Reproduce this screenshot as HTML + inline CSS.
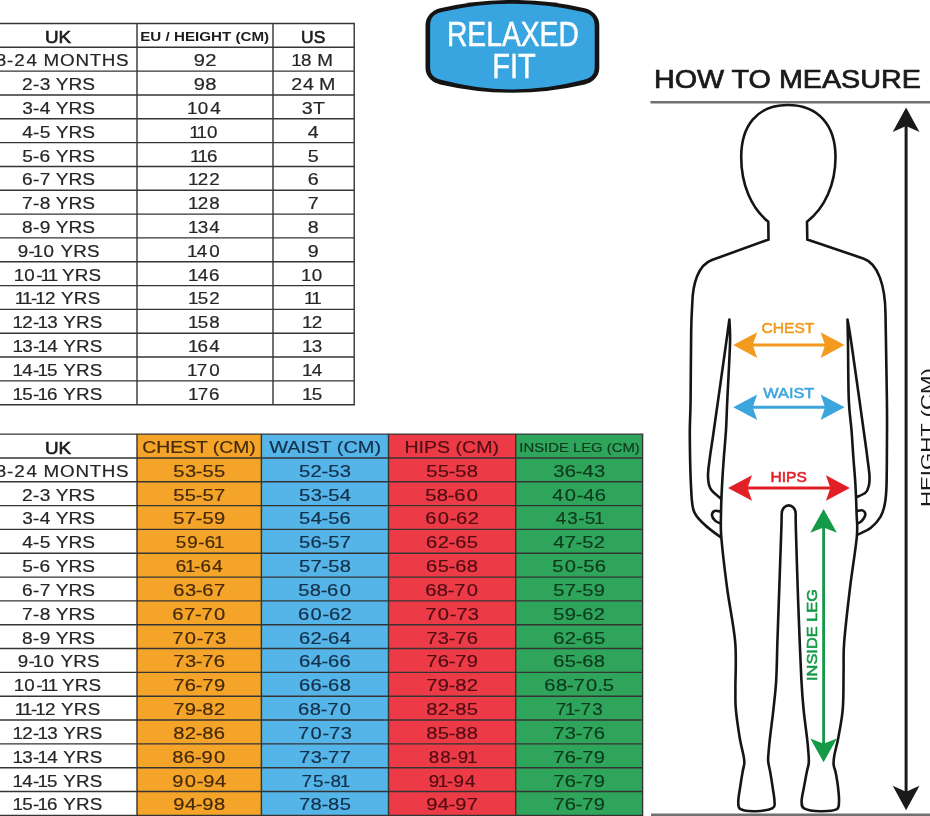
<!DOCTYPE html>
<html lang="en">
<head>
<meta charset="utf-8">
<title>Size chart - Relaxed fit</title>
<style>
html,body{margin:0;padding:0;background:#fff;}
body{width:930px;height:816px;overflow:hidden;position:relative;font-family:"Liberation Sans",Arial,Helvetica,sans-serif;}
svg{position:absolute;left:0;top:0;display:block;}
text{white-space:pre;}
</style>
</head>
<body>
<svg width="930" height="816" viewBox="0 0 930 816">
<rect x="0" y="0" width="930" height="816" fill="#ffffff"/>
<g font-family="Liberation Sans, Arial, Helvetica, sans-serif">
<path d="M-21 23.45H354.2M-21 47.28H354.2M-21 71.11H354.2M-21 94.94H354.2M-21 118.77H354.2M-21 142.60H354.2M-21 166.43H354.2M-21 190.26H354.2M-21 214.09H354.2M-21 237.92H354.2M-21 261.75H354.2M-21 285.58H354.2M-21 309.41H354.2M-21 333.24H354.2M-21 357.07H354.2M-21 380.90H354.2M-21 404.73H354.2M-21 22.75V405.43M137 22.75V405.43M273 22.75V405.43M354.2 22.75V405.43" stroke="#343434" stroke-width="1.4" fill="none"/>
<text transform="translate(58.00 42.85) scale(1.1226 1)" font-size="16.8" text-anchor="middle" fill="#1c1c1c" stroke="#1c1c1c" stroke-width="0.6">UK</text>
<text transform="translate(204.70 41.15) scale(1.2045 1)" font-size="12.6" text-anchor="middle" fill="#1c1c1c" font-weight="bold">EU / HEIGHT (CM)</text>
<text transform="translate(313.20 42.85) scale(1.0369 1)" font-size="16.8" text-anchor="middle" fill="#1c1c1c" stroke="#1c1c1c" stroke-width="0.6">US</text>
<text transform="translate(58.00 66.18) scale(1.12 1)" x="-64.85 -55.70 -45.52 -39.09 -28.11 -17.99 -12.92 1.80 15.55 28.28 39.14 51.90" font-size="16.8" fill="#262626" stroke="#262626" stroke-width="0.2">18-24 MONTHS</text>
<text transform="translate(205.00 66.18) scale(1.2 1)" x="-9.48 0.14" font-size="16.8" fill="#262626" stroke="#262626" stroke-width="0.2">92</text>
<text transform="translate(313.20 66.18) scale(1.12 1)" x="-19.60 -10.95 -1.23 3.65" font-size="16.8" fill="#262626" stroke="#262626" stroke-width="0.2">18 M</text>
<text transform="translate(58.40 90.01) scale(1.14 1)" x="-31.83 -22.26 -16.39 -6.84 -2.32 8.89 21.02" font-size="16.8" fill="#262626" stroke="#262626" stroke-width="0.2">2-3 YRS</text>
<text transform="translate(205.00 90.01) scale(1.2 1)" x="-9.48 0.14" font-size="16.8" fill="#262626" stroke="#262626" stroke-width="0.2">98</text>
<text transform="translate(313.20 90.01) scale(1.17 1)" x="-18.74 -8.82 0.54 5.01" font-size="16.8" fill="#262626" stroke="#262626" stroke-width="0.2">24 M</text>
<text transform="translate(58.40 113.84) scale(1.14 1)" x="-31.78 -22.26 -16.39 -6.84 -2.32 8.89 21.02" font-size="16.8" fill="#262626" stroke="#262626" stroke-width="0.2">3-4 YRS</text>
<text transform="translate(205.00 113.84) scale(1.12 1)" x="-16.04 -6.57 4.62" font-size="16.8" fill="#262626" stroke="#262626" stroke-width="0.2">104</text>
<text transform="translate(313.20 113.84) scale(1.17 1)" x="-9.75 -0.20" font-size="16.8" fill="#262626" stroke="#262626" stroke-width="0.2">3T</text>
<text transform="translate(58.40 137.67) scale(1.14 1)" x="-31.78 -22.26 -16.42 -6.84 -2.32 8.89 21.02" font-size="16.8" fill="#262626" stroke="#262626" stroke-width="0.2">4-5 YRS</text>
<text transform="translate(205.00 137.67) scale(1.12 1)" x="-14.14 -7.62 1.85" font-size="16.8" fill="#262626" stroke="#262626" stroke-width="0.2">110</text>
<text transform="translate(313.20 137.67) scale(1.17 1)" x="-4.62" font-size="16.8" fill="#262626" stroke="#262626" stroke-width="0.2">4</text>
<text transform="translate(58.40 161.50) scale(1.14 1)" x="-31.82 -22.26 -16.50 -6.84 -2.32 8.89 21.02" font-size="16.8" fill="#262626" stroke="#262626" stroke-width="0.2">5-6 YRS</text>
<text transform="translate(205.00 161.50) scale(1.12 1)" x="-13.31 -6.79 1.79" font-size="16.8" fill="#262626" stroke="#262626" stroke-width="0.2">116</text>
<text transform="translate(313.20 161.50) scale(1.17 1)" x="-4.65" font-size="16.8" fill="#262626" stroke="#262626" stroke-width="0.2">5</text>
<text transform="translate(58.40 185.33) scale(1.14 1)" x="-31.89 -22.26 -16.45 -6.84 -2.32 8.89 21.02" font-size="16.8" fill="#262626" stroke="#262626" stroke-width="0.2">6-7 YRS</text>
<text transform="translate(205.00 185.33) scale(1.12 1)" x="-15.21 -6.57 3.74" font-size="16.8" fill="#262626" stroke="#262626" stroke-width="0.2">122</text>
<text transform="translate(313.20 185.33) scale(1.17 1)" x="-4.73" font-size="16.8" fill="#262626" stroke="#262626" stroke-width="0.2">6</text>
<text transform="translate(58.40 209.16) scale(1.14 1)" x="-31.84 -22.26 -16.44 -6.84 -2.32 8.89 21.02" font-size="16.8" fill="#262626" stroke="#262626" stroke-width="0.2">7-8 YRS</text>
<text transform="translate(205.00 209.16) scale(1.12 1)" x="-15.21 -6.57 3.74" font-size="16.8" fill="#262626" stroke="#262626" stroke-width="0.2">128</text>
<text transform="translate(313.20 209.16) scale(1.17 1)" x="-4.68" font-size="16.8" fill="#262626" stroke="#262626" stroke-width="0.2">7</text>
<text transform="translate(58.40 232.99) scale(1.14 1)" x="-31.83 -22.26 -16.44 -6.84 -2.32 8.89 21.02" font-size="16.8" fill="#262626" stroke="#262626" stroke-width="0.2">8-9 YRS</text>
<text transform="translate(205.00 232.99) scale(1.12 1)" x="-15.21 -6.52 3.80" font-size="16.8" fill="#262626" stroke="#262626" stroke-width="0.2">134</text>
<text transform="translate(313.20 232.99) scale(1.17 1)" x="-4.67" font-size="16.8" fill="#262626" stroke="#262626" stroke-width="0.2">8</text>
<text transform="translate(58.40 256.82) scale(1.12 1)" x="-36.40 -26.69 -22.86 -13.39 -2.84 1.83 13.24 25.58" font-size="16.8" fill="#262626" stroke="#262626" stroke-width="0.2">9-10 YRS</text>
<text transform="translate(205.00 256.82) scale(1.12 1)" x="-16.04 -7.34 3.74" font-size="16.8" fill="#262626" stroke="#262626" stroke-width="0.2">140</text>
<text transform="translate(313.20 256.82) scale(1.17 1)" x="-4.67" font-size="16.8" fill="#262626" stroke="#262626" stroke-width="0.2">9</text>
<text transform="translate(58.40 280.65) scale(1.12 1)" x="-39.89 -30.42 -19.89 -16.05 -9.53 -1.48 3.19 14.60 26.94" font-size="16.8" fill="#262626" stroke="#262626" stroke-width="0.2">10-11 YRS</text>
<text transform="translate(205.00 280.65) scale(1.12 1)" x="-15.21 -6.52 3.69" font-size="16.8" fill="#262626" stroke="#262626" stroke-width="0.2">146</text>
<text transform="translate(313.20 280.65) scale(1.12 1)" x="-10.88 -1.41" font-size="16.8" fill="#262626" stroke="#262626" stroke-width="0.2">10</text>
<text transform="translate(58.40 304.48) scale(1.12 1)" x="-39.06 -32.54 -24.51 -20.67 -12.03 -2.30 2.36 13.78 26.12" font-size="16.8" fill="#262626" stroke="#262626" stroke-width="0.2">11-12 YRS</text>
<text transform="translate(205.00 304.48) scale(1.12 1)" x="-15.21 -6.55 3.74" font-size="16.8" fill="#262626" stroke="#262626" stroke-width="0.2">152</text>
<text transform="translate(313.20 304.48) scale(1.12 1)" x="-8.16 -1.64" font-size="16.8" fill="#262626" stroke="#262626" stroke-width="0.2">11</text>
<text transform="translate(58.40 328.31) scale(1.12 1)" x="-40.96 -32.32 -22.61 -18.77 -10.08 -0.41 4.26 15.67 28.02" font-size="16.8" fill="#262626" stroke="#262626" stroke-width="0.2">12-13 YRS</text>
<text transform="translate(205.00 328.31) scale(1.12 1)" x="-15.21 -6.55 3.74" font-size="16.8" fill="#262626" stroke="#262626" stroke-width="0.2">158</text>
<text transform="translate(313.20 328.31) scale(1.12 1)" x="-10.05 -1.41" font-size="16.8" fill="#262626" stroke="#262626" stroke-width="0.2">12</text>
<text transform="translate(58.40 352.14) scale(1.12 1)" x="-40.96 -32.27 -22.61 -18.77 -10.08 -0.41 4.26 15.67 28.02" font-size="16.8" fill="#262626" stroke="#262626" stroke-width="0.2">13-14 YRS</text>
<text transform="translate(205.00 352.14) scale(1.12 1)" x="-15.21 -6.63 3.80" font-size="16.8" fill="#262626" stroke="#262626" stroke-width="0.2">164</text>
<text transform="translate(313.20 352.14) scale(1.12 1)" x="-10.05 -1.36" font-size="16.8" fill="#262626" stroke="#262626" stroke-width="0.2">13</text>
<text transform="translate(58.40 375.97) scale(1.12 1)" x="-40.96 -32.27 -22.61 -18.77 -10.11 -0.41 4.26 15.67 28.02" font-size="16.8" fill="#262626" stroke="#262626" stroke-width="0.2">14-15 YRS</text>
<text transform="translate(205.00 375.97) scale(1.12 1)" x="-16.04 -7.40 3.74" font-size="16.8" fill="#262626" stroke="#262626" stroke-width="0.2">170</text>
<text transform="translate(313.20 375.97) scale(1.12 1)" x="-10.05 -1.36" font-size="16.8" fill="#262626" stroke="#262626" stroke-width="0.2">14</text>
<text transform="translate(58.40 399.80) scale(1.12 1)" x="-40.96 -32.30 -22.61 -18.77 -10.19 -0.41 4.26 15.67 28.02" font-size="16.8" fill="#262626" stroke="#262626" stroke-width="0.2">15-16 YRS</text>
<text transform="translate(205.00 399.80) scale(1.12 1)" x="-15.21 -6.58 3.69" font-size="16.8" fill="#262626" stroke="#262626" stroke-width="0.2">176</text>
<text transform="translate(313.20 399.80) scale(1.12 1)" x="-10.05 -1.39" font-size="16.8" fill="#262626" stroke="#262626" stroke-width="0.2">15</text>
<rect x="137" y="434.1" width="124.40" height="381.28" fill="#f5a42a"/>
<rect x="261.4" y="434.1" width="127.10" height="381.28" fill="#55b4e8"/>
<rect x="388.5" y="434.1" width="127.20" height="381.28" fill="#ec3b46"/>
<rect x="515.7" y="434.1" width="126.90" height="381.28" fill="#2fa55b"/>
<path d="M-21 434.10H642.6M-21 457.93H642.6M-21 481.76H642.6M-21 505.59H642.6M-21 529.42H642.6M-21 553.25H642.6M-21 577.08H642.6M-21 600.91H642.6M-21 624.74H642.6M-21 648.57H642.6M-21 672.40H642.6M-21 696.23H642.6M-21 720.06H642.6M-21 743.89H642.6M-21 767.72H642.6M-21 791.55H642.6M-21 815.38H642.6M-21 433.40V816.08M137 433.40V816.08M261.4 433.40V816.08M388.5 433.40V816.08M515.7 433.40V816.08M642.6 433.40V816.08" stroke="#343434" stroke-width="1.4" fill="none"/>
<text transform="translate(58.00 453.50) scale(1.1226 1)" font-size="16.8" text-anchor="middle" fill="#1c1c1c" stroke="#1c1c1c" stroke-width="0.6">UK</text>
<text transform="translate(199.00 453.00) scale(1.1509 1)" font-size="16.8" text-anchor="middle" fill="#45290a" stroke="#45290a" stroke-width="0.2">CHEST (CM)</text>
<text transform="translate(325.15 453.00) scale(1.1883 1)" font-size="16.8" text-anchor="middle" fill="#13304a" stroke="#13304a" stroke-width="0.2">WAIST (CM)</text>
<text transform="translate(451.70 453.00) scale(1.1639 1)" font-size="16.8" text-anchor="middle" fill="#520d13" stroke="#520d13" stroke-width="0.2">HIPS (CM)</text>
<text transform="translate(579.55 451.70) scale(1.1980 1)" font-size="12.4" text-anchor="middle" fill="#0e3b1e" stroke="#0e3b1e" stroke-width="0.2">INSIDE LEG (CM)</text>
<text transform="translate(58.00 476.83) scale(1.12 1)" x="-64.85 -55.70 -45.52 -39.09 -28.11 -17.99 -12.92 1.80 15.55 28.28 39.14 51.90" font-size="16.8" fill="#262626" stroke="#262626" stroke-width="0.2">18-24 MONTHS</text>
<text transform="translate(199.20 476.83) scale(1.2 1)" x="-21.59 -11.93 -2.80 2.66 12.28" font-size="16.8" fill="#45290a" stroke="#45290a" stroke-width="0.2">53-55</text>
<text transform="translate(324.95 476.83) scale(1.2 1)" x="-21.59 -11.98 -2.80 2.66 12.32" font-size="16.8" fill="#13304a" stroke="#13304a" stroke-width="0.2">52-53</text>
<text transform="translate(452.10 476.83) scale(1.2 1)" x="-21.59 -11.97 -2.80 2.66 12.27" font-size="16.8" fill="#520d13" stroke="#520d13" stroke-width="0.2">55-58</text>
<text transform="translate(579.15 476.83) scale(1.2 1)" x="-21.56 -12.04 -2.80 2.69 12.32" font-size="16.8" fill="#0e3b1e" stroke="#0e3b1e" stroke-width="0.2">36-43</text>
<text transform="translate(58.40 500.66) scale(1.14 1)" x="-31.83 -22.26 -16.39 -6.84 -2.32 8.89 21.02" font-size="16.8" fill="#262626" stroke="#262626" stroke-width="0.2">2-3 YRS</text>
<text transform="translate(199.20 500.66) scale(1.2 1)" x="-21.59 -11.97 -2.80 2.66 12.26" font-size="16.8" fill="#45290a" stroke="#45290a" stroke-width="0.2">55-57</text>
<text transform="translate(324.95 500.66) scale(1.2 1)" x="-21.59 -11.93 -2.80 2.66 12.32" font-size="16.8" fill="#13304a" stroke="#13304a" stroke-width="0.2">53-54</text>
<text transform="translate(452.10 500.66) scale(1.2 1)" x="-22.36 -12.75 -3.57 1.81 12.27" font-size="16.8" fill="#520d13" stroke="#520d13" stroke-width="0.2">58-60</text>
<text transform="translate(579.15 500.66) scale(1.2 1)" x="-22.33 -11.98 -2.03 3.46 12.98" font-size="16.8" fill="#0e3b1e" stroke="#0e3b1e" stroke-width="0.2">40-46</text>
<text transform="translate(58.40 524.49) scale(1.14 1)" x="-31.78 -22.26 -16.39 -6.84 -2.32 8.89 21.02" font-size="16.8" fill="#262626" stroke="#262626" stroke-width="0.2">3-4 YRS</text>
<text transform="translate(199.20 524.49) scale(1.2 1)" x="-21.59 -11.99 -2.80 2.66 12.27" font-size="16.8" fill="#45290a" stroke="#45290a" stroke-width="0.2">57-59</text>
<text transform="translate(324.95 524.49) scale(1.2 1)" x="-21.59 -11.93 -2.80 2.66 12.21" font-size="16.8" fill="#13304a" stroke="#13304a" stroke-width="0.2">54-56</text>
<text transform="translate(452.10 524.49) scale(1.2 1)" x="-22.44 -11.98 -2.03 3.35 13.04" font-size="16.8" fill="#520d13" stroke="#520d13" stroke-width="0.2">60-62</text>
<text transform="translate(579.15 524.49) scale(1.12 1)" x="-20.87 -10.56 -0.90 5.08 13.25" font-size="16.8" fill="#0e3b1e" stroke="#0e3b1e" stroke-width="0.2">43-51</text>
<text transform="translate(58.40 548.32) scale(1.14 1)" x="-31.78 -22.26 -16.42 -6.84 -2.32 8.89 21.02" font-size="16.8" fill="#262626" stroke="#262626" stroke-width="0.2">4-5 YRS</text>
<text transform="translate(199.20 548.32) scale(1.12 1)" x="-20.90 -10.61 -0.90 5.00 13.25" font-size="16.8" fill="#45290a" stroke="#45290a" stroke-width="0.2">59-61</text>
<text transform="translate(324.95 548.32) scale(1.2 1)" x="-21.59 -12.04 -2.80 2.66 12.26" font-size="16.8" fill="#13304a" stroke="#13304a" stroke-width="0.2">56-57</text>
<text transform="translate(452.10 548.32) scale(1.2 1)" x="-21.67 -11.98 -2.80 2.58 12.28" font-size="16.8" fill="#520d13" stroke="#520d13" stroke-width="0.2">62-65</text>
<text transform="translate(579.15 548.32) scale(1.2 1)" x="-21.56 -11.99 -2.80 2.66 12.27" font-size="16.8" fill="#0e3b1e" stroke="#0e3b1e" stroke-width="0.2">47-52</text>
<text transform="translate(58.40 572.15) scale(1.14 1)" x="-31.82 -22.26 -16.50 -6.84 -2.32 8.89 21.02" font-size="16.8" fill="#262626" stroke="#262626" stroke-width="0.2">5-6 YRS</text>
<text transform="translate(199.20 572.15) scale(1.12 1)" x="-20.98 -12.73 -4.69 1.21 11.63" font-size="16.8" fill="#45290a" stroke="#45290a" stroke-width="0.2">61-64</text>
<text transform="translate(324.95 572.15) scale(1.2 1)" x="-21.59 -11.99 -2.80 2.66 12.27" font-size="16.8" fill="#13304a" stroke="#13304a" stroke-width="0.2">57-58</text>
<text transform="translate(452.10 572.15) scale(1.2 1)" x="-21.67 -11.97 -2.80 2.58 12.27" font-size="16.8" fill="#520d13" stroke="#520d13" stroke-width="0.2">65-68</text>
<text transform="translate(579.15 572.15) scale(1.2 1)" x="-22.36 -11.98 -2.03 3.43 12.98" font-size="16.8" fill="#0e3b1e" stroke="#0e3b1e" stroke-width="0.2">50-56</text>
<text transform="translate(58.40 595.98) scale(1.14 1)" x="-31.89 -22.26 -16.45 -6.84 -2.32 8.89 21.02" font-size="16.8" fill="#262626" stroke="#262626" stroke-width="0.2">6-7 YRS</text>
<text transform="translate(199.20 595.98) scale(1.2 1)" x="-21.67 -11.93 -2.80 2.58 12.26" font-size="16.8" fill="#45290a" stroke="#45290a" stroke-width="0.2">63-67</text>
<text transform="translate(324.95 595.98) scale(1.2 1)" x="-22.36 -12.75 -3.57 1.81 12.27" font-size="16.8" fill="#13304a" stroke="#13304a" stroke-width="0.2">58-60</text>
<text transform="translate(452.10 595.98) scale(1.2 1)" x="-22.44 -12.75 -3.57 1.86 12.27" font-size="16.8" fill="#520d13" stroke="#520d13" stroke-width="0.2">68-70</text>
<text transform="translate(579.15 595.98) scale(1.2 1)" x="-21.59 -11.99 -2.80 2.66 12.27" font-size="16.8" fill="#0e3b1e" stroke="#0e3b1e" stroke-width="0.2">57-59</text>
<text transform="translate(58.40 619.81) scale(1.14 1)" x="-31.84 -22.26 -16.44 -6.84 -2.32 8.89 21.02" font-size="16.8" fill="#262626" stroke="#262626" stroke-width="0.2">7-8 YRS</text>
<text transform="translate(199.20 619.81) scale(1.2 1)" x="-22.44 -12.76 -3.57 1.86 12.27" font-size="16.8" fill="#45290a" stroke="#45290a" stroke-width="0.2">67-70</text>
<text transform="translate(324.95 619.81) scale(1.2 1)" x="-22.44 -11.98 -2.03 3.35 13.04" font-size="16.8" fill="#13304a" stroke="#13304a" stroke-width="0.2">60-62</text>
<text transform="translate(452.10 619.81) scale(1.2 1)" x="-22.39 -11.98 -2.03 3.40 13.09" font-size="16.8" fill="#520d13" stroke="#520d13" stroke-width="0.2">70-73</text>
<text transform="translate(579.15 619.81) scale(1.2 1)" x="-21.59 -11.98 -2.80 2.58 12.27" font-size="16.8" fill="#0e3b1e" stroke="#0e3b1e" stroke-width="0.2">59-62</text>
<text transform="translate(58.40 643.64) scale(1.14 1)" x="-31.83 -22.26 -16.44 -6.84 -2.32 8.89 21.02" font-size="16.8" fill="#262626" stroke="#262626" stroke-width="0.2">8-9 YRS</text>
<text transform="translate(199.20 643.64) scale(1.2 1)" x="-22.39 -11.98 -2.03 3.40 13.09" font-size="16.8" fill="#45290a" stroke="#45290a" stroke-width="0.2">70-73</text>
<text transform="translate(324.95 643.64) scale(1.2 1)" x="-21.67 -11.98 -2.80 2.58 12.32" font-size="16.8" fill="#13304a" stroke="#13304a" stroke-width="0.2">62-64</text>
<text transform="translate(452.10 643.64) scale(1.2 1)" x="-21.62 -11.93 -2.80 2.63 12.21" font-size="16.8" fill="#520d13" stroke="#520d13" stroke-width="0.2">73-76</text>
<text transform="translate(579.15 643.64) scale(1.2 1)" x="-21.67 -11.98 -2.80 2.58 12.28" font-size="16.8" fill="#0e3b1e" stroke="#0e3b1e" stroke-width="0.2">62-65</text>
<text transform="translate(58.40 667.47) scale(1.12 1)" x="-36.40 -26.69 -22.86 -13.39 -2.84 1.83 13.24 25.58" font-size="16.8" fill="#262626" stroke="#262626" stroke-width="0.2">9-10 YRS</text>
<text transform="translate(199.20 667.47) scale(1.2 1)" x="-21.62 -11.93 -2.80 2.63 12.21" font-size="16.8" fill="#45290a" stroke="#45290a" stroke-width="0.2">73-76</text>
<text transform="translate(324.95 667.47) scale(1.2 1)" x="-21.67 -11.93 -2.80 2.58 12.21" font-size="16.8" fill="#13304a" stroke="#13304a" stroke-width="0.2">64-66</text>
<text transform="translate(452.10 667.47) scale(1.2 1)" x="-21.62 -12.04 -2.80 2.63 12.27" font-size="16.8" fill="#520d13" stroke="#520d13" stroke-width="0.2">76-79</text>
<text transform="translate(579.15 667.47) scale(1.2 1)" x="-21.67 -11.97 -2.80 2.58 12.27" font-size="16.8" fill="#0e3b1e" stroke="#0e3b1e" stroke-width="0.2">65-68</text>
<text transform="translate(58.40 691.30) scale(1.12 1)" x="-39.89 -30.42 -19.89 -16.05 -9.53 -1.48 3.19 14.60 26.94" font-size="16.8" fill="#262626" stroke="#262626" stroke-width="0.2">10-11 YRS</text>
<text transform="translate(199.20 691.30) scale(1.2 1)" x="-21.62 -12.04 -2.80 2.63 12.27" font-size="16.8" fill="#45290a" stroke="#45290a" stroke-width="0.2">76-79</text>
<text transform="translate(324.95 691.30) scale(1.2 1)" x="-21.67 -12.04 -2.80 2.58 12.27" font-size="16.8" fill="#13304a" stroke="#13304a" stroke-width="0.2">66-68</text>
<text transform="translate(452.10 691.30) scale(1.2 1)" x="-21.62 -11.98 -2.80 2.64 12.27" font-size="16.8" fill="#520d13" stroke="#520d13" stroke-width="0.2">79-82</text>
<text transform="translate(579.15 691.30) scale(1.2 1)" x="-29.04 -19.36 -10.17 -4.74 5.66 15.37 19.66" font-size="16.8" fill="#0e3b1e" stroke="#0e3b1e" stroke-width="0.2">68-70.5</text>
<text transform="translate(58.40 715.13) scale(1.12 1)" x="-39.06 -32.54 -24.51 -20.67 -12.03 -2.30 2.36 13.78 26.12" font-size="16.8" fill="#262626" stroke="#262626" stroke-width="0.2">11-12 YRS</text>
<text transform="translate(199.20 715.13) scale(1.2 1)" x="-21.62 -11.98 -2.80 2.64 12.27" font-size="16.8" fill="#45290a" stroke="#45290a" stroke-width="0.2">79-82</text>
<text transform="translate(324.95 715.13) scale(1.2 1)" x="-22.44 -12.75 -3.57 1.86 12.27" font-size="16.8" fill="#13304a" stroke="#13304a" stroke-width="0.2">68-70</text>
<text transform="translate(452.10 715.13) scale(1.2 1)" x="-21.61 -11.98 -2.80 2.64 12.28" font-size="16.8" fill="#520d13" stroke="#520d13" stroke-width="0.2">82-85</text>
<text transform="translate(579.15 715.13) scale(1.12 1)" x="-20.93 -12.73 -4.69 1.26 11.63" font-size="16.8" fill="#0e3b1e" stroke="#0e3b1e" stroke-width="0.2">71-73</text>
<text transform="translate(58.40 738.96) scale(1.12 1)" x="-40.96 -32.32 -22.61 -18.77 -10.08 -0.41 4.26 15.67 28.02" font-size="16.8" fill="#262626" stroke="#262626" stroke-width="0.2">12-13 YRS</text>
<text transform="translate(199.20 738.96) scale(1.2 1)" x="-21.61 -11.98 -2.80 2.64 12.21" font-size="16.8" fill="#45290a" stroke="#45290a" stroke-width="0.2">82-86</text>
<text transform="translate(324.95 738.96) scale(1.2 1)" x="-22.39 -11.98 -2.03 3.40 13.09" font-size="16.8" fill="#13304a" stroke="#13304a" stroke-width="0.2">70-73</text>
<text transform="translate(452.10 738.96) scale(1.2 1)" x="-21.61 -11.97 -2.80 2.64 12.27" font-size="16.8" fill="#520d13" stroke="#520d13" stroke-width="0.2">85-88</text>
<text transform="translate(579.15 738.96) scale(1.2 1)" x="-21.62 -11.93 -2.80 2.63 12.21" font-size="16.8" fill="#0e3b1e" stroke="#0e3b1e" stroke-width="0.2">73-76</text>
<text transform="translate(58.40 762.79) scale(1.12 1)" x="-40.96 -32.27 -22.61 -18.77 -10.08 -0.41 4.26 15.67 28.02" font-size="16.8" fill="#262626" stroke="#262626" stroke-width="0.2">13-14 YRS</text>
<text transform="translate(199.20 762.79) scale(1.2 1)" x="-22.38 -12.81 -3.57 1.87 12.27" font-size="16.8" fill="#45290a" stroke="#45290a" stroke-width="0.2">86-90</text>
<text transform="translate(324.95 762.79) scale(1.2 1)" x="-21.62 -11.93 -2.80 2.63 12.26" font-size="16.8" fill="#13304a" stroke="#13304a" stroke-width="0.2">73-77</text>
<text transform="translate(452.10 762.79) scale(1.12 1)" x="-20.92 -10.61 -0.90 5.06 13.25" font-size="16.8" fill="#520d13" stroke="#520d13" stroke-width="0.2">88-91</text>
<text transform="translate(579.15 762.79) scale(1.2 1)" x="-21.62 -12.04 -2.80 2.63 12.27" font-size="16.8" fill="#0e3b1e" stroke="#0e3b1e" stroke-width="0.2">76-79</text>
<text transform="translate(58.40 786.62) scale(1.12 1)" x="-40.96 -32.27 -22.61 -18.77 -10.11 -0.41 4.26 15.67 28.02" font-size="16.8" fill="#262626" stroke="#262626" stroke-width="0.2">14-15 YRS</text>
<text transform="translate(199.20 786.62) scale(1.2 1)" x="-22.38 -11.98 -2.03 3.41 13.09" font-size="16.8" fill="#45290a" stroke="#45290a" stroke-width="0.2">90-94</text>
<text transform="translate(324.95 786.62) scale(1.12 1)" x="-20.93 -10.59 -0.90 5.06 13.25" font-size="16.8" fill="#13304a" stroke="#13304a" stroke-width="0.2">75-81</text>
<text transform="translate(452.10 786.62) scale(1.12 1)" x="-20.92 -12.73 -4.69 1.27 11.63" font-size="16.8" fill="#520d13" stroke="#520d13" stroke-width="0.2">91-94</text>
<text transform="translate(579.15 786.62) scale(1.2 1)" x="-21.62 -12.04 -2.80 2.63 12.27" font-size="16.8" fill="#0e3b1e" stroke="#0e3b1e" stroke-width="0.2">76-79</text>
<text transform="translate(58.40 810.45) scale(1.12 1)" x="-40.96 -32.30 -22.61 -18.77 -10.19 -0.41 4.26 15.67 28.02" font-size="16.8" fill="#262626" stroke="#262626" stroke-width="0.2">15-16 YRS</text>
<text transform="translate(199.20 810.45) scale(1.2 1)" x="-21.61 -11.93 -2.80 2.64 12.27" font-size="16.8" fill="#45290a" stroke="#45290a" stroke-width="0.2">94-98</text>
<text transform="translate(324.95 810.45) scale(1.2 1)" x="-21.62 -11.98 -2.80 2.64 12.28" font-size="16.8" fill="#13304a" stroke="#13304a" stroke-width="0.2">78-85</text>
<text transform="translate(452.10 810.45) scale(1.2 1)" x="-21.61 -11.93 -2.80 2.64 12.26" font-size="16.8" fill="#520d13" stroke="#520d13" stroke-width="0.2">94-97</text>
<text transform="translate(579.15 810.45) scale(1.2 1)" x="-21.62 -12.04 -2.80 2.63 12.27" font-size="16.8" fill="#0e3b1e" stroke="#0e3b1e" stroke-width="0.2">76-79</text>
</g>
<path d="M425.5 25C425.5 16 433 9.8 440 8.2Q512.4 -8.3 584.8 8.2C591.8 9.8 599.3 16 599.3 25L599.3 68C599.3 77 591.8 82.8 584.8 84.4Q512.4 100.9 440 84.4C433 82.8 425.5 77 425.5 68Z" fill="#141414"/>
<path d="M430.1 26C430.1 16.5 435 13.3 443 11.7Q512.4 -4.1 581.8 11.7C589.8 13.3 594.7 16.5 594.7 26L594.7 67C594.7 75.5 589.8 78.6 581.8 80.25Q512.4 98.55 443 80.25C435 78.6 430.1 75.5 430.1 67Z" fill="#39a5e0"/>
<text transform="translate(512.90 46.20) scale(0.8078 1)" font-family="Liberation Sans, Arial, Helvetica, sans-serif" font-size="35" text-anchor="middle" fill="#ffffff" stroke="#ffffff" stroke-width="0.5">RELAXED</text>
<text transform="translate(514.00 77.60) scale(0.8288 1)" font-family="Liberation Sans, Arial, Helvetica, sans-serif" font-size="35" text-anchor="middle" fill="#ffffff" stroke="#ffffff" stroke-width="0.5">FIT</text>
<text transform="translate(787.40 87.60) scale(1.1218 1)" font-family="Liberation Sans, Arial, Helvetica, sans-serif" font-size="25.6" text-anchor="middle" fill="#1a1a1a" stroke="#1a1a1a" stroke-width="0.7">HOW TO MEASURE</text>
<path d="M650.5 102.2H930M651 814.8H930" stroke="#707070" stroke-width="2.4" fill="none"/>
<path d="M720.6 537.2C718.0 535.2 709.5 529.4 705.0 525.0C700.5 520.6 696.1 517.5 693.8 511.0C691.5 504.5 691.7 498.7 691.0 486.0C690.3 473.3 689.9 449.3 689.8 435.0C689.7 420.7 690.4 417.5 690.6 400.0C690.8 382.5 690.9 346.2 691.2 330.0C691.5 313.8 692.1 307.5 692.3 303.0C692.8 284 698 265 711.9 260L768.5 239.5L768.3 221.8C751 208 741.2 184 741.2 157C741.2 126 757 105 787.6 105C819 105 835.5 126 835.5 157C835.5 184 825 208 807 221.8L807.3 239.5L863.9 258.7C878 263.5 885.3 286 885.5 313.9C885.6 318.9 885.8 329.6 886.0 344.0C886.2 358.4 886.7 384.8 886.9 400.0C887.1 415.2 887.1 420.7 887.0 435.0C886.9 449.3 886.9 474.5 886.5 486.0C886.1 497.5 885.8 498.9 884.8 504.0C883.8 509.1 882.9 512.7 880.6 516.7C878.3 520.7 874.7 524.8 870.9 527.8C867.1 530.8 859.8 533.6 857.6 534.8M729.4 319.5C728.8 323.6 728.6 325.2 726.0 344.0C723.4 362.8 716.3 413.0 713.6 432.0C710.9 451.0 710.7 450.7 709.8 458.0C708.9 465.3 707.9 470.9 708.0 476.0C708.1 481.1 708.4 484.9 710.5 488.7C712.6 492.4 718.9 496.9 720.6 498.5M729.4 319.5C729.5 323.6 730.4 330.6 730.0 344.0C729.6 357.4 728.0 385.7 727.3 400.0C726.6 414.3 726.6 420.3 726.0 430.0C725.4 439.7 724.5 448.7 723.8 458.0C723.1 467.3 722.5 476.7 722.0 486.0C721.5 495.3 721.1 505.5 721.0 514.0C720.9 522.5 720.3 524.7 721.3 537.0C722.3 549.3 724.8 570.5 727.1 588.0C729.4 605.5 733.8 625.5 735.2 642.2C736.6 658.9 735.3 676.9 735.4 688.0C735.5 699.1 735.1 700.4 735.8 708.7C736.5 717.0 738.4 729.8 739.7 737.7C741.0 745.6 742.8 751.7 743.6 756.0C744.4 760.3 744.5 760.8 744.3 763.5C744.1 766.2 743.3 768.1 742.6 772.0C741.9 775.9 740.9 782.1 740.2 787.0C739.5 791.9 738.2 797.9 738.3 801.6C738.4 805.3 737.6 807.6 740.6 809.2C743.6 810.8 750.7 811.4 756.0 811.2C761.3 811.0 769.5 809.8 772.6 808.2C775.7 806.6 774.5 805.1 774.5 801.6C774.5 798.1 773.3 791.9 772.6 787.0C771.9 782.1 770.9 776.2 770.2 772.0C769.5 767.8 768.5 764.8 768.2 761.5C767.9 758.2 768.3 756.0 768.6 752.0C768.9 748.0 769.2 744.9 770.0 737.7C770.8 730.5 772.5 718.3 773.5 708.7C774.5 699.1 775.6 691.1 776.2 680.0C776.9 668.9 776.9 657.3 777.4 642.0C777.9 626.7 778.6 606.7 779.3 588.0C779.9 569.3 780.9 542.3 781.3 530.0C781.7 517.7 781.6 516.7 781.7 514.0C781.9 502.5 795.5 502.5 795.7 514C795.7 516.7 795.6 517.7 795.9 530.0C796.2 542.3 797.1 569.3 797.7 588.0C798.3 606.7 799.1 626.7 799.7 642.0C800.3 657.3 800.8 668.9 801.4 680.0C802.0 691.1 802.6 699.1 803.5 708.7C804.4 718.3 806.1 730.0 807.0 737.7C807.9 745.4 808.3 750.7 808.6 755.0C808.9 759.3 809.0 760.7 808.7 763.5C808.4 766.3 807.6 768.1 806.8 772.0C806.0 775.9 804.9 782.1 804.0 787.0C803.1 791.9 801.5 798.0 801.6 801.6C801.7 805.2 801.4 807.0 804.5 808.6C807.6 810.2 814.7 811.1 820.0 811.2C825.3 811.3 833.2 811.0 836.4 809.4C839.6 807.8 838.7 805.3 839.0 801.6C839.3 797.9 838.5 791.8 838.0 787.0C837.5 782.2 836.5 776.8 835.8 773.0C835.1 769.2 833.8 767.5 833.6 764.5C833.4 761.5 833.6 759.5 834.4 755.0C835.2 750.5 836.9 745.4 838.3 737.7C839.7 730.0 841.9 720.0 842.8 708.7C843.7 697.4 843.4 681.1 843.6 670.0C843.8 658.9 843.1 655.7 844.2 642.0C845.3 628.3 847.9 605.5 850.0 588.0C852.1 570.5 855.7 549.3 856.8 537.0C857.9 524.7 856.8 522.5 856.6 514.0C856.4 505.5 856.0 495.3 855.5 486.0C855.0 476.7 854.1 467.3 853.4 458.0C852.7 448.7 852.3 439.7 851.5 430.0C850.7 420.3 849.4 414.3 848.8 400.0C848.2 385.7 848.2 357.4 848.0 344.0C847.8 330.6 847.6 323.6 847.5 319.5M847.5 319.5C848.2 323.6 848.6 323.9 851.5 344.0C854.4 364.1 862.4 421.0 865.0 440.0C867.6 459.0 866.6 452.0 867.4 458.0C868.1 464.0 869.3 471.3 869.5 476.0C869.7 480.7 869.5 483.2 868.8 486.0C868.1 488.8 867.3 491.1 865.3 492.9C863.3 494.7 858.0 496.3 856.6 497.0M720.8 511.6C719.8 511.5 716.2 510.4 714.7 511.0C713.2 511.6 711.9 513.6 712.0 515.3C712.1 516.9 713.9 519.5 715.4 520.9C716.9 522.3 720.1 523.2 721.0 523.7M856.7 511.0C857.7 510.9 861.1 509.8 862.5 510.4C863.9 511.0 865.4 512.9 865.3 514.6C865.2 516.4 863.1 519.4 861.8 520.9C860.5 522.4 858.1 523.2 857.4 523.7" fill="none" stroke="#151515" stroke-width="2.6" stroke-linejoin="miter" stroke-linecap="round"/>
<path d="M751.7 345.1H826.1" stroke="#f39a1f" stroke-width="3.0" fill="none"/>
<path d="M733.2 345.1L757.2 332.3L752.7 345.1L757.2 357.90000000000003ZM844.6 345.1L820.6 332.3L825.1 345.1L820.6 357.90000000000003Z" fill="#f39a1f"/>
<path d="M751.7 407.3H826.1" stroke="#3ba6de" stroke-width="3.0" fill="none"/>
<path d="M733.2 407.3L757.2 394.5L752.7 407.3L757.2 420.1ZM844.6 407.3L820.6 394.5L825.1 407.3L820.6 420.1Z" fill="#3ba6de"/>
<path d="M746.5 488.0H831.4" stroke="#e21f26" stroke-width="3.0" fill="none"/>
<path d="M728.0 488.0L752.0 475.2L747.5 488.0L752.0 500.8ZM849.9 488.0L825.9 475.2L830.4 488.0L825.9 500.8Z" fill="#e21f26"/>
<path d="M823.6 526.5V744.8" stroke="#159a48" stroke-width="2.8" fill="none"/>
<path d="M823.6 509L810.3000000000001 532.7L823.6 527.5L836.9 532.7ZM823.6 762.3L810.3000000000001 738.5999999999999L823.6 743.8L836.9 738.5999999999999Z" fill="#159a48"/>
<path d="M906.1 125.0V792.8" stroke="#1a1a1a" stroke-width="3.0" fill="none"/>
<path d="M906.1 107.5L892.7 132.0L906.1 126.0L919.5 132.0ZM906.1 810.3L892.7 785.8L906.1 791.8L919.5 785.8Z" fill="#1a1a1a"/>
<text transform="translate(787.90 333.10) scale(1.0526 1)" font-family="Liberation Sans, Arial, Helvetica, sans-serif" font-size="14.8" text-anchor="middle" fill="#f39a1f" stroke="#f39a1f" stroke-width="0.55">CHEST</text>
<text transform="translate(788.80 397.60) scale(1.1012 1)" font-family="Liberation Sans, Arial, Helvetica, sans-serif" font-size="14.8" text-anchor="middle" fill="#3ba6de" stroke="#3ba6de" stroke-width="0.55">WAIST</text>
<text transform="translate(788.70 481.80) scale(1.0538 1)" font-family="Liberation Sans, Arial, Helvetica, sans-serif" font-size="14.8" text-anchor="middle" fill="#e21f26" stroke="#e21f26" stroke-width="0.55">HIPS</text>
<text transform="translate(817.40 635.00) rotate(-90) scale(1.1075 1)" font-family="Liberation Sans, Arial, Helvetica, sans-serif" font-size="14.8" text-anchor="middle" fill="#159a48" stroke="#159a48" stroke-width="0.55">INSIDE LEG</text>
<text transform="translate(932.80 437.50) rotate(-90) scale(1.3064 1)" font-family="Liberation Sans, Arial, Helvetica, sans-serif" font-size="17" text-anchor="middle" fill="#1a1a1a">HEIGHT (CM)</text>
</svg>
</body>
</html>
